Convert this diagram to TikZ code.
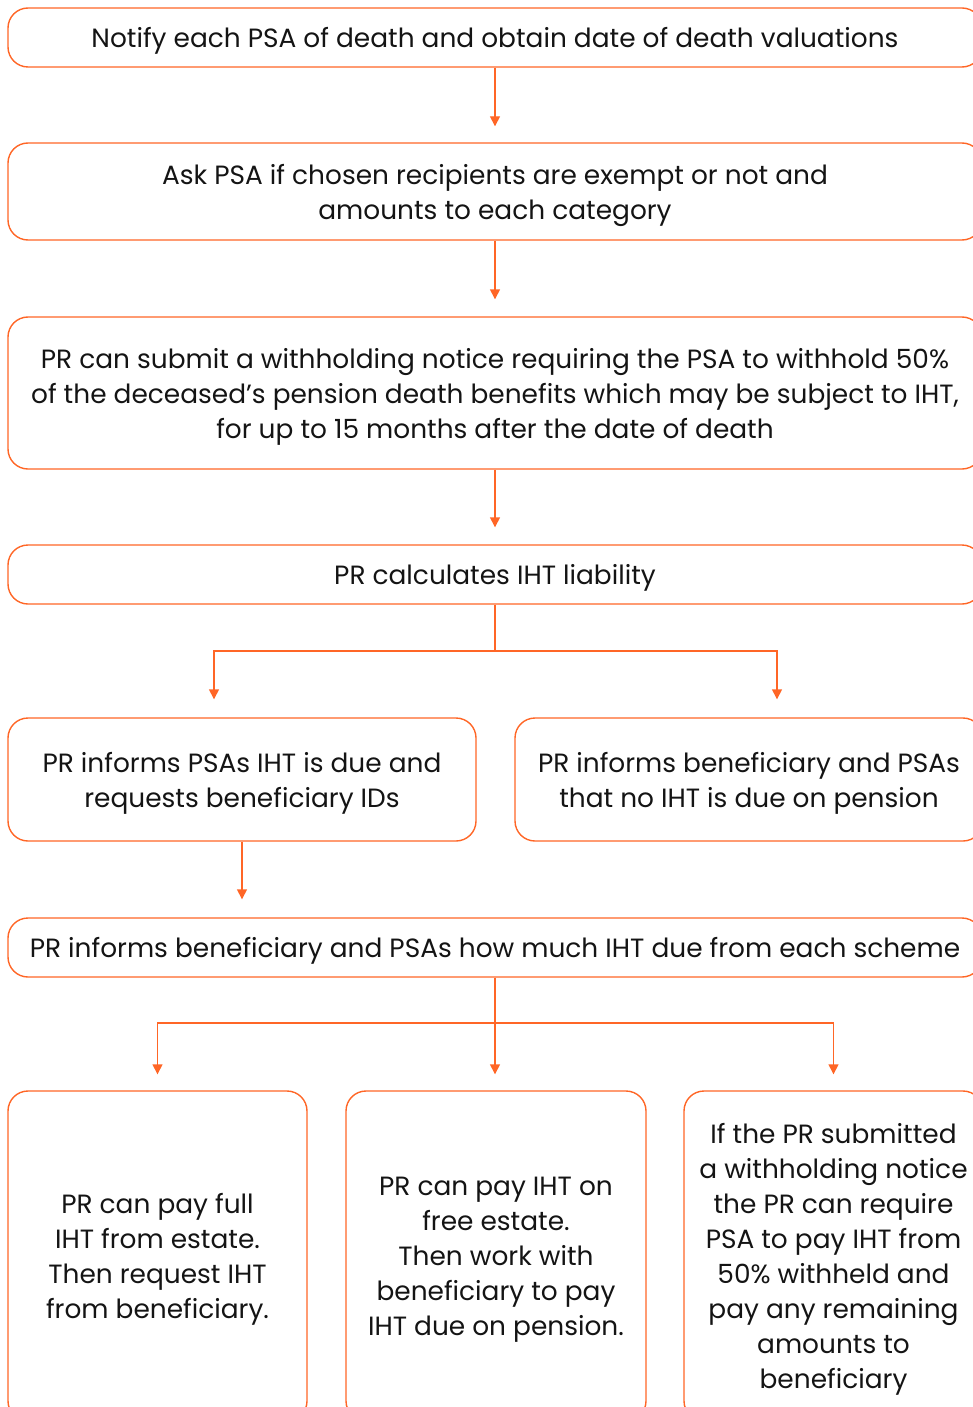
\documentclass[tikz,border=0pt]{standalone}
\usepackage{fontspec}
\setmainfont{Poppins}
\usetikzlibrary{arrows.meta}
\definecolor{psaorange}{RGB}{255,102,38}
\definecolor{txtblack}{RGB}{20,20,20}
\tikzstyle{StepBox}=[rectangle, rounded corners=20pt, draw=psaorange, line width=1.4pt, inner sep=0pt, align=center, text=txtblack, text depth=-13pt, font=\fontsize{26.4}{35}\selectfont]
\tikzstyle{WideBox}=[StepBox, minimum width=974pt]
\tikzstyle{HalfBox}=[StepBox, minimum width=468pt, minimum height=123pt]
\tikzstyle{LastBox}=[StepBox, minimum width=299pt, minimum height=330pt]
\tikzstyle{Flow}=[-{Triangle[length=10pt,width=10pt]}, draw=psaorange, line width=1.4pt]
\tikzstyle{Join}=[draw=psaorange, line width=1.4pt]

\begin{document}
\begin{tikzpicture}[x=1pt, y=-1pt]
\useasboundingbox (0,0) rectangle (973,1407);
\clip (0,0) rectangle (973,1407);

\node[WideBox, minimum height=59pt](notify) at (495,37.5) {Notify each PSA of death and obtain date of death valuations};
\node[WideBox, minimum height=97pt](ask) at (495,191.5) {Ask PSA if chosen recipients are exempt or not and\\amounts to each category};
\node[WideBox, minimum height=152pt](notice) at (495,393) {PR can submit a withholding notice requiring the PSA to withhold 50\%\\of the deceased’s pension death benefits which may be subject to IHT,\\for up to 15 months after the date of death};
\node[WideBox, minimum height=59pt](calc) at (495,574.5) {PR calculates IHT liability};
\node[HalfBox](due) at (242,779.5) {PR informs PSAs IHT is due and\\requests beneficiary IDs};
\node[HalfBox](nodue) at (749,779.5) {PR informs beneficiary and PSAs\\that no IHT is due on pension};
\node[WideBox, minimum height=59pt](howmuch) at (495,947.5) {PR informs beneficiary and PSAs how much IHT due from each scheme};
\node[LastBox](payfull) at (157.5,1256) {PR can pay full\\IHT from estate.\\Then request IHT\\from beneficiary.};
\node[LastBox, minimum width=300pt](payfree) at (496,1256) {PR can pay IHT on\\free estate.\\Then work with\\beneficiary to pay\\IHT due on pension.};
\node[LastBox](withheld) at (833.5,1256) {If the PR submitted\\a withholding notice\\the PR can require\\PSA to pay IHT from\\50\% withheld and\\pay any remaining\\amounts to\\beneficiary};

\coordinate (split1) at (495,651);
\coordinate (split2) at (495,1023);

\draw[Flow, shorten >=16pt](notify) -- (ask);
\draw[Flow, shorten >=17pt](ask) -- (notice);
\draw[Flow, shorten >=17pt](notice) -- (calc);
\draw[Join](calc) -- (split1);
\draw[Flow, shorten >=18pt](split1) -| ([xshift=-28pt]due.north);
\draw[Flow, shorten >=18pt](split1) -| ([xshift=28pt]nodue.north);
\draw[Flow, shorten >=18pt](due) -- (due.south |- howmuch.north);
\draw[Join](howmuch) -- (split2);
\draw[Flow, shorten >=16pt](split2) -| (payfull.north);
\draw[Flow, shorten >=16pt](howmuch.south) -- (howmuch.south |- payfree.north);
\draw[Flow, shorten >=16pt](split2) -| (withheld.north);
\end{tikzpicture}
\end{document}
